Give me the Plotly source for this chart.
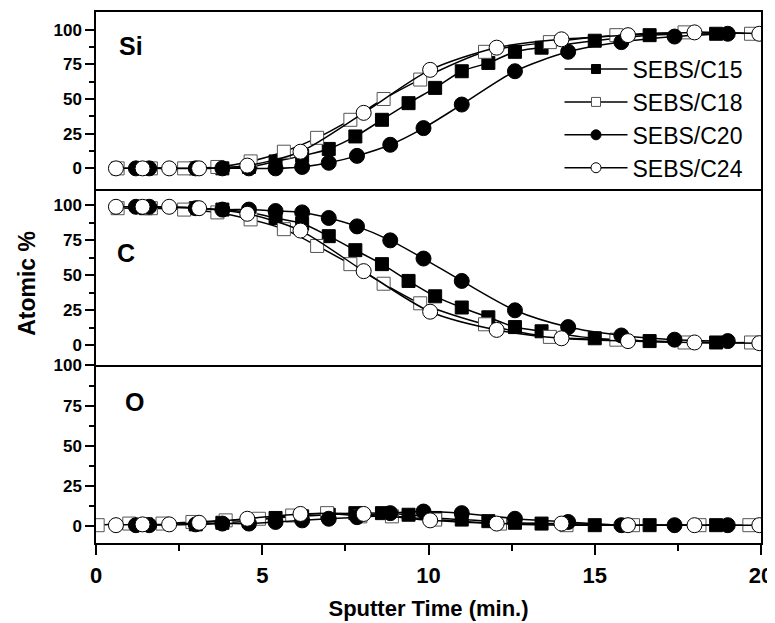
import plotly.graph_objects as go
from plotly.subplots import make_subplots

# sputter time (min.) per sample
x_c15 = [1.5, 3.0, 3.8, 4.6, 5.4, 6.2, 7.0, 7.8, 8.6, 9.4, 10.2, 11.0, 11.8, 12.6, 13.4, 15.0, 16.65, 18.65]
x_c18 = [0.65, 1.65, 2.65, 3.65, 4.65, 5.65, 6.65, 7.65, 8.65, 9.75, 11.7, 13.65, 15.65, 17.7, 19.7]
x_c18_o = [0.05, 1.0, 2.0, 2.9, 3.9, 4.9, 5.9, 6.95, 7.95, 8.9, 10.2, 12.15, 14.15, 16.15, 18.15, 19.65]
x_c20 = [1.2, 1.6, 3.0, 3.8, 4.6, 5.4, 6.2, 7.0, 7.85, 8.85, 9.85, 11.0, 12.6, 14.2, 15.8, 17.4, 19.0]
x_c24 = [0.6, 1.4, 2.2, 3.1, 4.55, 6.15, 8.05, 10.05, 12.05, 14.0, 16.0, 18.0, 19.95]

# Si atomic %
si_c15 = [0, 0, 0, 1, 5, 9, 14, 23, 35, 47, 58, 70, 76, 84, 87, 92, 96, 97]
si_c18 = [0, 0, 0, 1, 5, 12, 22, 35, 50, 64, 84, 91, 96, 98, 97]
si_c20 = [0, 0, 0, 0, 0, 0, 1, 4, 9, 17, 29, 46, 70, 84, 91, 95, 97]
si_c24 = [0, 0, 0, 0, 2, 12, 40, 71, 87, 93, 96, 98, 97]

# C atomic %
c_c15 = [98, 98, 97, 95, 91, 87, 78, 68, 58, 46, 35, 27, 20, 13, 10, 5, 3, 2]
c_c18 = [98, 98, 97, 95, 90, 83, 71, 58, 44, 30, 15, 6, 4, 2, 2]
c_c20 = [99, 99, 98, 97, 97, 96, 95, 91, 85, 75, 62, 46, 25, 13, 7, 4, 3]
c_c24 = [99, 99, 99, 98, 94, 82, 53, 24, 11, 5, 3, 2, 1.5]

# O atomic %
o_c15 = [1, 1, 2, 3, 5, 6, 7, 8, 8, 7, 5, 4, 3, 2, 1.5, 0.5, 0.5, 0.5]
o_c18 = [0.5, 1.5, 1.5, 2.5, 3.5, 4.5, 6.5, 8, 6, 6, 4, 1.5, 0.5, 0.5, 0.5, 0.5]
o_c20 = [0.5, 0.5, 1, 1.5, 1.5, 2.5, 3.5, 4.5, 5.5, 8, 9, 8, 4.5, 2.5, 0.5, 0.5, 0.5]
o_c24 = [0.5, 1, 1, 2, 4.5, 7.5, 7.5, 3.5, 1.5, 1.5, 0.5, 0.5, 0.5]

names = ["SEBS/C15", "SEBS/C18", "SEBS/C20", "SEBS/C24"]
panel_labels = ["Si", "C", "O"]
x_ticks = [0, 5, 10, 15, 20]
y_ticks = [0, 25, 50, 75, 100]

FONT = "Liberation Sans, Arial, Helvetica, sans-serif"

symbols = ["square", "square", "circle", "circle"]
fills = ["black", "white", "black", "white"]
edges = ["black", "#555555", "black", "black"]
sizes = [13, 13, 15, 15]
legend_sizes = [9, 9, 10, 10]

panels = [
    [(x_c15, si_c15), (x_c18, si_c18), (x_c20, si_c20), (x_c24, si_c24)],
    [(x_c15, c_c15), (x_c18, c_c18), (x_c20, c_c20), (x_c24, c_c24)],
    [(x_c15, o_c15), (x_c18_o, o_c18), (x_c20, o_c20), (x_c24, o_c24)],
]

fig = make_subplots(rows=3, cols=1, shared_xaxes=True, vertical_spacing=0)

for row, series in enumerate(panels, start=1):
    for i, (xs, ys) in enumerate(series):
        fig.add_trace(
            go.Scatter(
                x=xs,
                y=ys,
                mode="lines+markers",
                name=names[i],
                line=dict(color="black", width=1.5, shape="spline", smoothing=0.8),
                marker=dict(symbol=symbols[i], size=sizes[i], color=fills[i],
                            line=dict(color=edges[i], width=1)),
                showlegend=False,
            ),
            row=row,
            col=1,
        )

# legend entries with the smaller symbols used in the original key
for i, name in enumerate(names):
    fig.add_trace(
        go.Scatter(
            x=[None],
            y=[None],
            mode="lines+markers",
            name=name,
            line=dict(color="black", width=1.5),
            marker=dict(symbol=symbols[i], size=legend_sizes[i], color=fills[i],
                        line=dict(color=edges[i], width=1)),
            showlegend=True,
        ),
        row=1,
        col=1,
    )

line_style = dict(showline=True, linecolor="black", linewidth=1.5, showgrid=False, zeroline=False, automargin=False)

fig.update_xaxes(range=[0, 20], row=1, col=1, mirror=True, ticks="", showticklabels=False, **line_style)
fig.update_xaxes(range=[0, 20], row=2, col=1, mirror=False, ticks="", showticklabels=False, **line_style)
fig.update_xaxes(
    range=[0, 20],
    mirror=False,
    tickvals=x_ticks,
    ticks="outside",
    ticklen=10,
    tickwidth=1.5,
    tickcolor="black",
    ticklabelstandoff=2,
    ticklabeloverflow="allow",
    minor=dict(dtick=2.5, ticks="outside", ticklen=6, tickwidth=1.5, tickcolor="black"),
    tickfont=dict(family=FONT, size=22, color="black", weight="bold"),
    title=dict(text="Sputter Time (min.)", font=dict(family=FONT, size=22, color="black", weight="bold"), standoff=13),
    row=3,
    col=1,
    **line_style,
)

y_ranges = [[-14.6, 112.7], [-14.3, 112.0], [-10.6, 100.1]]
domains = [[0.6674, 1.0], [0.3347, 0.6674], [0.0, 0.3347]]
for row in (1, 2, 3):
    fig.update_yaxes(
        range=y_ranges[row - 1],
        domain=domains[row - 1],
        mirror=True,
        tickvals=y_ticks,
        ticks="outside",
        ticklen=9,
        tickwidth=1.5,
        tickcolor="black",
        minor=dict(tickvals=[12.5, 37.5, 62.5, 87.5], ticks="outside", ticklen=5, tickwidth=1.5, tickcolor="black"),
        tickfont=dict(family=FONT, size=17, color="black", weight="bold"),
        row=row,
        col=1,
        **line_style,
    )

label_pos = [(0.63, 88, "y"), (0.57, 66, "y2"), (0.8, 77, "y3")]
annotations = []
for (lx, ly, yref), text in zip(label_pos, panel_labels):
    annotations.append(
        dict(
            x=lx, y=ly, xref="x", yref=yref, text=text, showarrow=False,
            xanchor="left", yanchor="middle",
            font=dict(family=FONT, size=25, color="black", weight="bold"),
        )
    )
annotations.append(
    dict(
        x=-0.103, y=0.489, xref="paper", yref="paper", text="Atomic %", showarrow=False,
        textangle=-90, xanchor="center", yanchor="middle",
        font=dict(family=FONT, size=23, color="black", weight="bold"),
    )
)

# the page body adds an 8 px offset, so the figure is sized to fit inside the window
fig.update_layout(
    template="none",
    width=767,
    height=615,
    margin=dict(l=88, r=14, t=4, b=80),
    plot_bgcolor="white",
    paper_bgcolor="white",
    annotations=annotations,
    showlegend=True,
    legend=dict(
        x=0.697,
        y=0.933,
        xanchor="left",
        yanchor="top",
        bgcolor="rgba(0,0,0,0)",
        font=dict(family=FONT, size=23, color="black"),
        itemwidth=63,
        tracegroupgap=0,
    ),
)

fig.write_html("out.html")
